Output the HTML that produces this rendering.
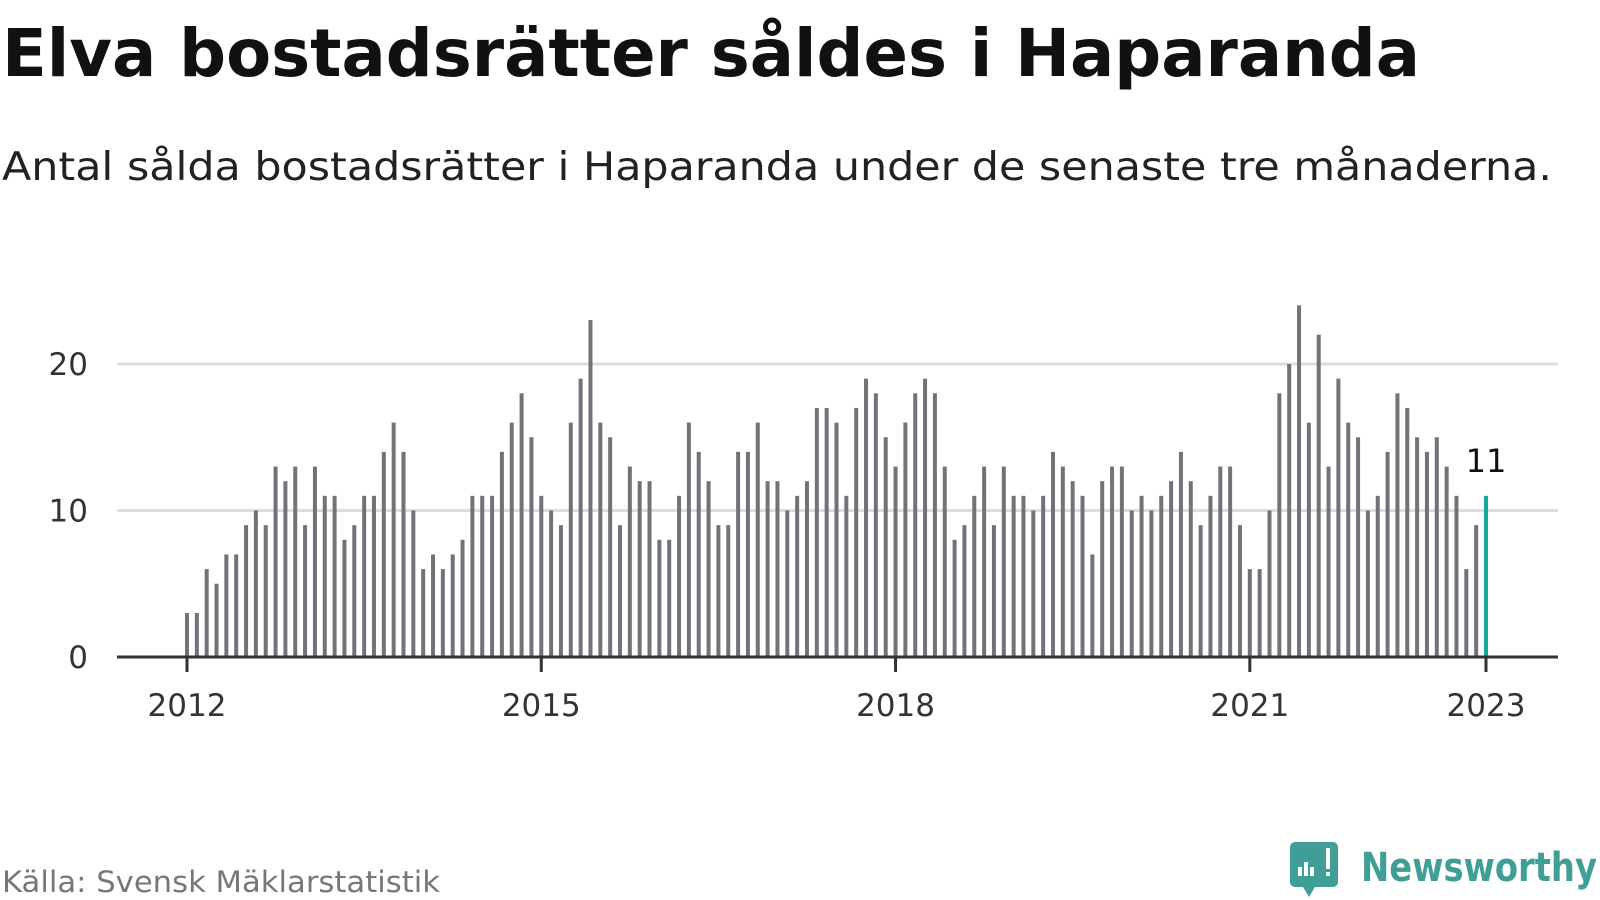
<!DOCTYPE html>
<html><head><meta charset="utf-8">
<style>
html,body{margin:0;padding:0;background:#fff;width:1600px;height:900px;overflow:hidden;font-family:"DejaVu Sans",sans-serif;}
svg text{font-family:"DejaVu Sans","Liberation Sans",sans-serif;}
</style></head><body>
<svg width="1600" height="900" viewBox="0 0 1600 900">
<text x="2" y="76" font-size="66" font-weight="bold" fill="#111" textLength="1418" lengthAdjust="spacingAndGlyphs">Elva bostadsrätter såldes i Haparanda</text>
<text x="2" y="180" font-size="39" fill="#222" textLength="1550" lengthAdjust="spacingAndGlyphs">Antal sålda bostadsrätter i Haparanda under de senaste tre månaderna.</text>
<g id="grid"></g>
<g id="bars"></g>
<g id="axes"></g>
<text x="2" y="892" font-size="29" fill="#777" textLength="438" lengthAdjust="spacingAndGlyphs">Källa: Svensk Mäklarstatistik</text>
<g>
<path d="M1295 842 h38 a5 5 0 0 1 5 5 v35 a5 5 0 0 1 -5 5 h-18 l-6 10 l-6 -10 h-8 a5 5 0 0 1 -5 -5 v-35 a5 5 0 0 1 5 -5z" fill="#3f9e96"/>
<rect x="1298" y="867" width="4" height="9" fill="#fff"/>
<rect x="1304" y="862" width="4" height="14" fill="#fff"/>
<rect x="1310" y="867" width="4" height="9" fill="#fff"/>
<rect x="1326" y="848" width="4" height="21" fill="#fff"/>
<rect x="1326" y="872" width="4" height="4" fill="#fff"/>
<text x="1361" y="881" font-size="40" font-weight="bold" fill="#3f9e96" textLength="236" lengthAdjust="spacingAndGlyphs">Newsworthy</text>
</g>
</svg>
<script>
const categories = [];
for (let y = 2012; y <= 2023; y++) for (let m = 1; m <= 12; m++) { if (y === 2023 && m > 1) break; categories.push(y + '-' + String(m).padStart(2,'0')); }
const values = [3,3,6,5,7,7,9,10,9,13,12,13,
9,13,11,11,8,9,11,11,14,16,14,10,
6,7,6,7,8,11,11,11,14,16,18,15,
11,10,9,16,19,23,16,15,9,13,12,12,
8,8,11,16,14,12,9,9,14,14,16,12,
12,10,11,12,17,17,16,11,17,19,18,15,
13,16,18,19,18,13,8,9,11,13,9,13,
11,11,10,11,14,13,12,11,7,12,13,13,
10,11,10,11,12,14,12,9,11,13,13,9,
6,6,10,18,20,24,16,22,13,19,16,15,
10,11,14,18,17,15,14,15,13,11,6,9,11];
const yTicks = [0,10,20];
const xTickLabels = ['2012','2015','2018','2021','2023'];
const xTickIndex = [0,36,72,108,132];

const NS='http://www.w3.org/2000/svg';
const x0=187, dx=(1486-187)/132, y0=657, ppu=14.65;
const xs=i=>x0+i*dx, ys=v=>y0-v*ppu;
function mk(t,a,p){const e=document.createElementNS(NS,t);for(const k in a)e.setAttribute(k,a[k]);p.appendChild(e);return e;}
const grid=document.getElementById('grid'), bars=document.getElementById('bars'), axes=document.getElementById('axes');
yTicks.forEach(v=>{
  if(v>0){const l=mk('line',{x1:117,x2:1558,y1:ys(v),y2:ys(v),stroke:'#ddd','stroke-width':3},grid);
  
  }
  const t=mk('text',{x:88,y:ys(v)+11,'font-size':31,fill:'#333','text-anchor':'end'},axes);
  t.textContent=v;
  
  
});
values.forEach((v,i)=>{
  const last=i===values.length-1;
  const r=mk('rect',{x:xs(i)-2,y:ys(v),width:4,height:v*ppu,fill:last?'#13a89e':'#737278'},bars);
  
  
  if(last){
    const t=mk('text',{x:xs(i),y:ys(v)-24,'font-size':32,fill:'#111','text-anchor':'middle'},bars);
    t.textContent=v;
    
    
  }
});
const ax=mk('line',{x1:117,x2:1558,y1:y0,y2:y0,stroke:'#333','stroke-width':3},axes);


xTickIndex.forEach((idx,k)=>{
  const tk=mk('line',{x1:xs(idx),x2:xs(idx),y1:y0,y2:y0+15,stroke:'#333','stroke-width':3},axes);
  
  
  const t=mk('text',{x:xs(idx),y:716,'font-size':31,fill:'#333','text-anchor':'middle'},axes);
  t.textContent=xTickLabels[k];
  
  
});
</script>
</body></html>
